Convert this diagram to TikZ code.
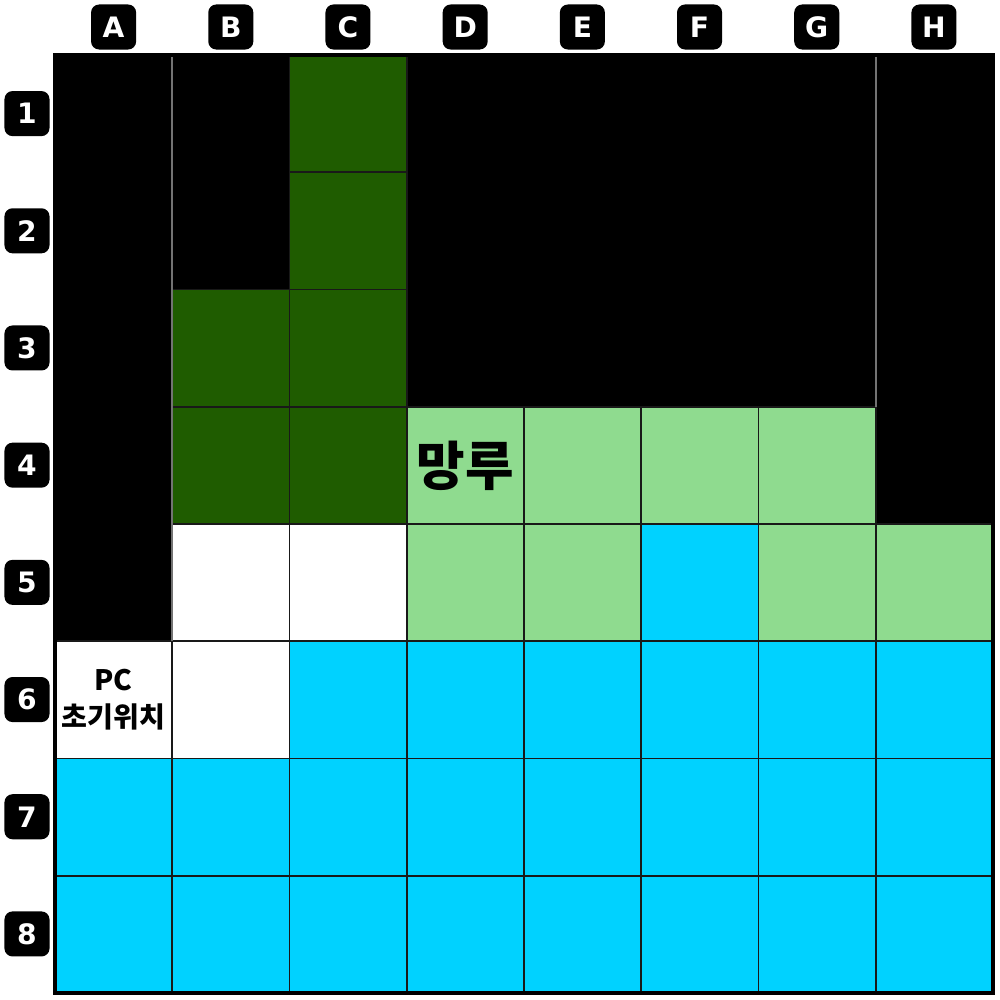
\documentclass[tikz,border=0pt]{standalone}
\usepackage{fontspec}
\setmainfont{DejaVu Sans}
\newfontfamily\kofont{Noto Sans CJK KR}
\definecolor{forest}{HTML}{1F5C00}
\definecolor{lawn}{HTML}{8FDB8F}
\definecolor{water}{HTML}{00D2FF}
\tikzset{
  tag/.style={fill=black,text=white,rounded corners=0.08cm,minimum size=0.45cm,
    inner sep=0pt,font=\bfseries\fontsize{8}{8}\selectfont},
  wall/.style={fill=black},
  cellline/.style={draw=black!90,line width=0.5pt},
  seam/.style={draw=black!55,line width=0.5pt},
}
\begin{document}
\begin{tikzpicture}[x=0.01cm,y=-0.01cm]
  \useasboundingbox (0,0) rectangle (1000,1000);
  % column and row tags
  \foreach \letter [count=\i from 0] in {A,B,C,D,E,F,G,H}
    \node[tag] (col\letter) at (113.6+117.19*\i,27) {\letter};
  \foreach \n in {1,...,8}
    \node[tag] (row\n) at (27,113.6+117.19*\n-117.19) {\n};
  \begin{scope}[shift={(55,55)},x=1.1719cm,y=-1.1719cm]
    % walls
    \fill[wall] (0,0) rectangle (1,5);
    \fill[wall] (1,0) rectangle (2,2);
    \fill[wall] (3,0) rectangle (7,3);
    \fill[wall] (7,0) rectangle (8,4);
    % forest
    \foreach \c/\r in {2/0,2/1,1/2,2/2,1/3,2/3}
      \draw[cellline,fill=forest] (\c,\r) rectangle ++(1,1);
    % lawn
    \foreach \c/\r in {3/3,4/3,5/3,6/3,3/4,4/4,6/4,7/4}
      \draw[cellline,fill=lawn] (\c,\r) rectangle ++(1,1);
    % open ground
    \foreach \c/\r in {1/4,2/4,0/5,1/5}
      \draw[cellline,fill=white] (\c,\r) rectangle ++(1,1);
    % water
    \draw[cellline,fill=water] (5,4) rectangle ++(1,1);
    \foreach \c in {2,...,7}
      \draw[cellline,fill=water] (\c,5) rectangle ++(1,1);
    \foreach \r in {6,7}
      \foreach \c in {0,...,7}
        \draw[cellline,fill=water] (\c,\r) rectangle ++(1,1);
    % seams between walls
    \draw[seam] (1,0.02) -- (1,5);
    \draw[seam] (7,0.02) -- (7,3);
    % labels
    \node[font=\kofont\bfseries\fontsize{15}{15}\selectfont] (tower) at (3.5,3.5) {망루};
    \node[font=\kofont\bfseries\fontsize{8}{10.5}\selectfont,align=center,inner sep=0pt]
      (start) at (0.5,5.5) {PC\\초기위치};
    % board frame
    \draw[line width=0.04cm] (0,0) rectangle (8,8);
  \end{scope}
\end{tikzpicture}
\end{document}
